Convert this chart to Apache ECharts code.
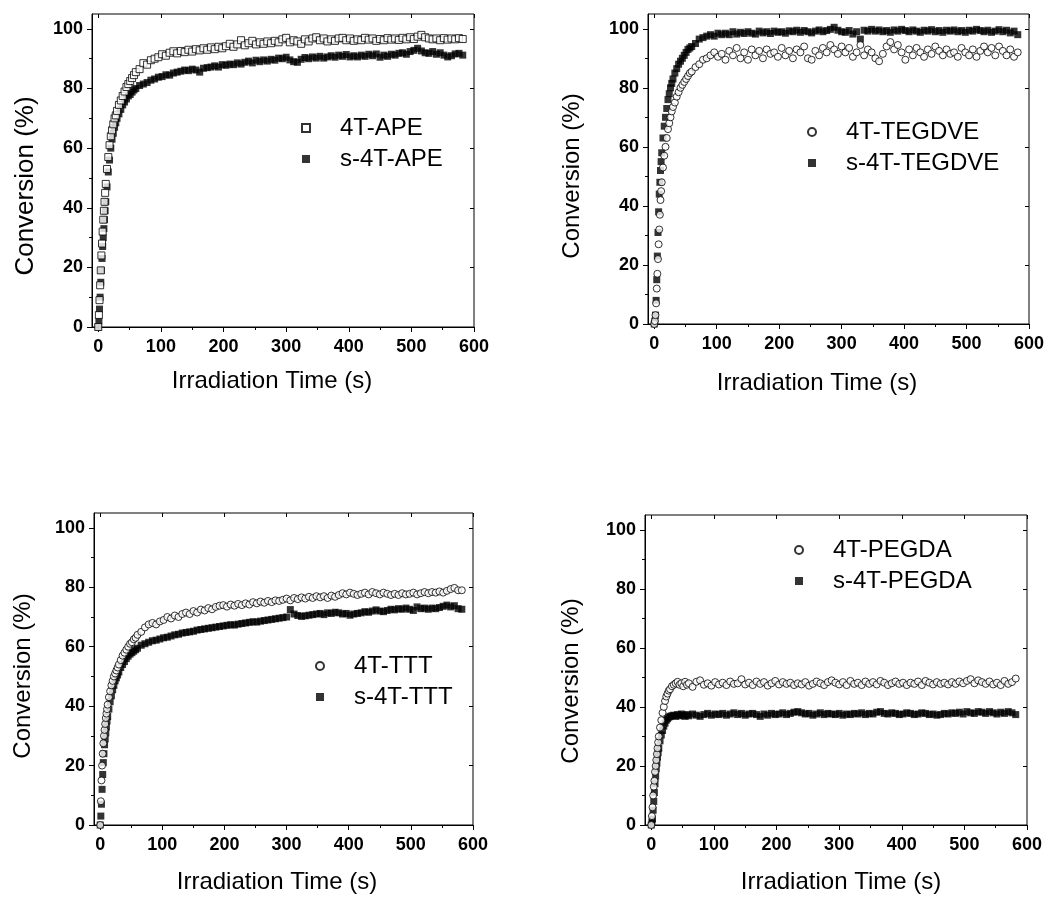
<!DOCTYPE html>
<html>
<head>
<meta charset="utf-8">
<script src="https://cdn.jsdelivr.net/npm/echarts@6/dist/echarts.min.js"></script>
<style>
html,body{margin:0;padding:0;background:#fff;}
#chart{width:1050px;height:899px;}
</style>
</head>
<body>
<div id="chart"></div>
<script>
// ---------------- DATA ----------------
const X_TICKS = [0, 100, 200, 300, 400, 500, 600];
const X_MINOR = [50, 150, 250, 350, 450, 550];
const Y_TICKS = [0, 20, 40, 60, 80, 100];
const Y_MINOR = [10, 30, 50, 70, 90];

// irradiation times (s) of the sampled points
const T = [0,1,2,3,4,5,6,7,8,9,
  10,11,12,14,16,18,20,22,24,26,
  28,30,33,36,39,42,45,48,51,54,
  57,60,66,72,78,84,90,96,102,108,
  114,120,126,132,138,144,150,156,162,168,
  174,180,186,192,198,204,210,216,222,228,
  234,240,246,252,258,264,270,276,282,288,
  294,300,306,312,318,324,330,336,342,348,
  354,360,366,372,378,384,390,396,402,408,
  414,420,426,432,438,444,450,456,462,468,
  474,480,486,492,498,504,510,516,522,528,
  534,540,546,552,558,564,570,576,582];

const ape4T = [0,4,9,14,19,24,28,32,36,39,
  42,45,48,53,57,61,64,66,68,70,
  71,72.5,74.5,76,77.5,79,80.5,81.5,82.5,83.5,
  84.5,85.5,86.5,88.5,88,89.5,90,90.5,91.5,91,
  92,92.5,91.8,92.6,92.2,93,92.4,93.2,92.8,93.5,
  93,93.8,93.2,94,93.5,94.2,95,94,94.8,96.2,
  94.5,95.2,96,94.8,95.5,95,95.8,95.2,96,95.5,
  96.5,97,95.5,96.2,95.8,95,96.5,95.8,96.8,97.2,
  96.2,96.8,95.8,96.5,96,96.8,97,96.2,96.8,96,
  96.5,96.2,97,96.4,96.8,96,96.6,96.2,96.9,96.4,
  96.8,96.3,97,96.5,97.2,96.6,97.4,98,97.2,96.8,
  96.5,96.8,96.2,96.9,96.4,96.8,96.5,96.9,96.6];
const apeS4T = [0,2,6,10,15,19,23,27,30,33,
  36,39,42,47,52,56,60,63,65,67,
  68.5,70,71.5,73,74.5,75.5,76.5,77.5,78,78.8,
  79.5,80,81,81.5,82,82.8,83.2,83.8,84,84.6,
  84.5,85.2,85.5,85.8,86.2,86,86.5,86.2,85.5,86.8,
  87,87.2,87.6,87.2,88,87.8,88.2,88,88.6,88.2,
  88.8,89.2,88.6,89.5,89,89.6,89.2,89.8,89.5,90.2,
  90,90.5,89.6,89,88.8,89.8,90.4,90,90.6,90.2,
  90.8,90.2,90.6,91,90.5,91.2,90.8,91.4,90.6,91,
  90.6,91.2,90.8,91.5,91,91.6,90.5,91.2,90.8,91.5,
  91.2,91.8,92,91.5,92.4,92.8,93.5,92.6,92,91.8,
  92.4,91.5,92,91.2,90.6,91,91.6,91.8,91.2];

const tegdve4T = [0,1,3,7,12,17,22,27,32,37,
  42,45,48,53,57,60,63,66,68,70,
  72,73.5,75,77,78.5,80,81,82,83,84,
  85,85.5,87,88,89.5,90,91,92,90.5,91.5,
  89.5,92.5,91,93.5,90,92,89.5,93,91,92.5,
  90,93,91.5,92,90.5,93.5,91,92.5,90,93,
  92,94,90,89.5,92.5,91,93.5,92,94.5,93,
  91.5,94,92,93.5,90.5,92,94.5,91,93,92,
  90,89,91.5,94,95.5,93,94.5,92,89.5,93,
  91,93.5,92,90.5,93,91.5,94,92.5,91,93,
  91.5,92,90.5,93.5,92,91,93,90.5,92.5,94,
  92,93.5,91,94,92.5,91,93,90.5,92];
const tegdveS4T = [0,1,3,8,15,23,31,38,44,48,
  52,55,58,63,67,70,73,76,78,80,
  81.5,83,85,86.5,88,89,90,91,92,93,
  93.5,94,95,96.5,97,97.5,98,97.5,98.5,98,
  98.5,98,99,98.2,98.8,98.4,99,98.5,98.2,99.2,
  98.6,99,98.4,99.2,98.8,99,98.5,99.3,99,99.5,
  98.8,99.4,99,98.6,99.2,99.6,99,99.4,99.8,100.5,
  99.5,99,98.8,99.4,98.2,99,96.5,99.5,99.2,99.8,
  99.2,99.6,99,99.4,98.8,99.6,99.2,99.8,99.4,99,
  99.6,99.2,98.8,99.5,99.2,99.7,99,99.4,98.8,99.5,
  99.2,99.6,99,99.4,98.8,99.5,99.2,99.8,99.4,99,
  99.5,98.8,99.2,99.7,99,99.5,98.6,99.2,98];

const ttt4T = [0,8,15,20,24,27.5,30,32,34,36,
  37.5,39,40.5,43,45,47,48.5,50,51,52,
  53,54,55.5,57,58,59,60,61,61.5,62.5,
  63,64,65,66.5,67.5,68,67.5,68.5,69,70,
  69.5,70.5,70,71,71.5,71,72,71.5,72.5,72.2,
  73,72.6,73.4,73.8,74,73.5,74.2,73.8,74.4,74,
  74.6,74.2,75,74.6,75.2,74.8,75.4,75,75.6,75.4,
  75.8,76.2,75.6,76.4,76,76.6,76.2,76.8,76.4,77,
  76.6,77,76.4,77.2,76.8,77.4,78,77.6,78.2,77.8,
  77.4,77.8,78.2,77.6,78.4,78,77.6,78.2,77.8,77.4,
  77.8,77.4,78,77.6,77.8,78.2,77.6,78,78.4,78,
  78.4,78.2,78.6,78.2,78.8,79.4,79.8,79,79];
const tttS4T = [0,3,7,12,17,21,24,27,29,31,
  33,35,36.5,39,41.5,43.5,45.5,47,48.5,49.5,
  50.5,51.5,53,54,55,56,56.8,57.5,58,58.5,
  59,59.5,60.5,61,61.5,62,62.2,62.6,63,63.2,
  63.6,64,64.2,64.6,64.8,65,65.2,65.6,65.8,66,
  66.2,66.4,66.6,66.8,67,67.2,67.4,67.3,67.6,67.8,
  68,68.2,68.4,68.3,68.6,68.8,69,69.2,69.4,69.6,
  69.8,70,72.5,71,70.5,70.2,70.4,70.6,70.8,71,
  71.2,70.8,71.4,71.2,71.6,71.4,71,71.2,70.6,71,
  71.2,71.4,71.8,71.6,72,72.4,72,71.8,72.2,72.6,
  72.4,72.8,72.6,73,72.6,72.2,73.4,72.8,73,72.6,
  73,72.8,73.2,73.6,74,73.4,73.8,72.8,72.6];

const pegda4T = [0,3,6,10,13,15,18,20,22,24,
  26,28,30,33,35.5,38,40,42,43.5,44.5,
  45.5,46,47,47.5,48,48.5,47.5,48,47,48.5,
  47.5,48,46.8,48.5,49,47.5,48,47.2,48.4,47.6,
  48.2,47.4,48.6,47.8,48,49.4,47.6,48.2,47.4,48.6,
  47.8,48.4,47.2,48,48.8,47.6,48.4,47.8,48.2,47.4,
  48,47.6,48.4,47.2,47.8,48.6,48,47.4,48.4,49,
  48.2,47.6,48.4,47.4,48.8,47.8,48.2,47.4,48.6,47.8,
  48.4,47.6,48.8,48.2,47.4,48,48.6,47.8,48.2,47.4,
  48.2,47.8,48.6,47.4,48.8,48.2,47.6,48.4,47.8,48.2,
  47.6,48.4,47.8,48.6,48,48.8,49.4,48,49,48.4,
  47.8,48.6,47.6,48.2,47.4,48.8,47.8,48.4,49.6];
const pegdaS4T = [0,1,2,5,8,11,14,16.5,19,21,
  23,24.5,26,28.5,30.5,32,33.5,34.5,35.5,36,
  36.5,36.8,37,37.2,36.8,37.4,37,37.6,37.2,36.8,
  37.4,37,37.6,37.2,36.8,37.4,37.8,37.2,37.6,37.4,
  37.8,37.2,37.6,38,37.4,37.8,37.2,37.6,37.8,37.4,
  36.8,37.6,37.2,37.8,37.4,37.6,38,37.4,37.8,38.2,
  38.4,38,37.6,37.8,37.2,37.6,38,37.4,37.8,37.6,
  37.4,37.8,37.2,37.6,37.4,37.8,37.6,38,37.4,37.8,
  37.6,38.2,38.4,37.8,37.6,38,37.8,37.4,37.6,38,
  37.8,37.4,37.6,38,37.8,37.4,37.6,37.2,37.4,37.8,
  37.6,38,37.8,38.2,37.6,38.4,38,37.8,38.4,38.2,
  37.8,38.4,38,37.6,38.2,37.8,38.4,38,37.4];

const OPEN_NAMES = ['4T-APE', '4T-TEGDVE', '4T-TTT', '4T-PEGDA'];
const FILLED_NAMES = ['s-4T-APE', 's-4T-TEGDVE', 's-4T-TTT', 's-4T-PEGDA'];
const OPEN_VALUES = [ape4T, tegdve4T, ttt4T, pegda4T];
const FILLED_VALUES = [apeS4T, tegdveS4T, tttS4T, pegdaS4T];
const X_TITLE = 'Irradiation Time (s)';
const Y_TITLE = 'Conversion (%)';

// ---------------- LAYOUT ----------------
const FONT = '"Liberation Sans", Arial, Helvetica, sans-serif';
const layout = [
  {grid:{left:92, top:14, width:382, height:313}, legend:{left:301, top:116},
   openSymbol:'rect', xGap:42, xPad:[0,22,0,0], yGap:53, yPad:[0,31,0,0], yFont:26},
  {grid:{left:648, top:14, width:381, height:310}, legend:{left:807, top:120},
   openSymbol:'circle', xGap:47, xPad:[0,43,0,0], yGap:64, yPad:[0,14,0,0], yFont:24},
  {grid:{left:94, top:513, width:379, height:312}, legend:{left:315, top:654},
   openSymbol:'circle', xGap:45, xPad:[0,13,0,0], yGap:59, yPad:[0,14,0,0], yFont:24},
  {grid:{left:645, top:515, width:382, height:310}, legend:{left:794, top:538},
   openSymbol:'circle', xGap:45, xPad:[0,0,0,10], yGap:62, yPad:[0,22,0,0], yFont:24}
];

const grids = [], xAxes = [], yAxes = [], legends = [], series = [];
const black = '#000';
const tickFont = {color:black, fontSize:18, fontWeight:'bold', fontFamily:FONT};

layout.forEach((L, g) => {
  grids.push(Object.assign({show:true, borderColor:black, borderWidth:1, backgroundColor:'transparent'}, L.grid));
  // main bottom x axis
  xAxes.push({type:'value', gridIndex:g, min:-10, max:600, position:'bottom',
    axisLine:{show:true, onZero:false, lineStyle:{color:black, width:1}},
    axisTick:{show:true, inside:false, length:5, customValues:X_TICKS, lineStyle:{color:black, width:1}},
    axisLabel:Object.assign({show:true, customValues:X_TICKS, margin:11}, tickFont),
    splitLine:{show:false},
    name:X_TITLE, nameLocation:'middle', nameGap:L.xGap,
    nameTextStyle:{color:black, fontSize:24, fontFamily:FONT, padding:L.xPad}});
  // minor bottom ticks
  xAxes.push({type:'value', gridIndex:g, min:-10, max:600, position:'bottom',
    axisLine:{show:false, onZero:false},
    axisTick:{show:true, inside:false, length:3, customValues:X_MINOR, lineStyle:{color:black, width:1}},
    axisLabel:{show:false}, splitLine:{show:false}});
  // top mirror ticks
  xAxes.push({type:'value', gridIndex:g, min:-10, max:600, position:'top',
    axisLine:{show:false, onZero:false},
    axisTick:{show:true, inside:true, length:4, customValues:X_TICKS, lineStyle:{color:black, width:1}},
    axisLabel:{show:false}, splitLine:{show:false}});

  yAxes.push({type:'value', gridIndex:g, min:0, max:105, position:'left',
    axisLine:{show:true, onZero:false, lineStyle:{color:black, width:1}},
    axisTick:{show:true, inside:false, length:5, customValues:Y_TICKS, lineStyle:{color:black, width:1}},
    axisLabel:Object.assign({show:true, customValues:Y_TICKS, margin:9}, tickFont),
    splitLine:{show:false},
    name:Y_TITLE, nameLocation:'middle', nameGap:L.yGap,
    nameTextStyle:{color:black, fontSize:L.yFont, fontFamily:FONT, padding:L.yPad}});
  yAxes.push({type:'value', gridIndex:g, min:0, max:105, position:'left',
    axisLine:{show:false, onZero:false},
    axisTick:{show:true, inside:false, length:3, customValues:Y_MINOR, lineStyle:{color:black, width:1}},
    axisLabel:{show:false}, splitLine:{show:false}});
  yAxes.push({type:'value', gridIndex:g, min:0, max:105, position:'right',
    axisLine:{show:false, onZero:false},
    axisTick:{show:true, inside:true, length:4, customValues:Y_TICKS, lineStyle:{color:black, width:1}},
    axisLabel:{show:false}, splitLine:{show:false}});

  const toPts = vals => T.map((t, i) => [t, vals[i]]);
  series.push({type:'scatter', name:FILLED_NAMES[g], xAxisIndex:3*g, yAxisIndex:3*g,
    symbol:'rect', symbolSize:7, itemStyle:{color:black},
    data:toPts(FILLED_VALUES[g]), z:2, emphasis:{disabled:true}});
  series.push({type:'scatter', name:OPEN_NAMES[g], xAxisIndex:3*g, yAxisIndex:3*g,
    symbol:L.openSymbol, symbolSize:7, itemStyle:{color:'#fff', borderColor:black, borderWidth:1},
    data:toPts(OPEN_VALUES[g]), z:3, emphasis:{disabled:true}});

  legends.push({orient:'vertical', left:L.legend.left, top:L.legend.top,
    itemWidth:8, itemHeight:8, itemGap:7, padding:0, selectedMode:false,
    data:[OPEN_NAMES[g], FILLED_NAMES[g]],
    textStyle:{color:black, fontSize:24, fontFamily:FONT, lineHeight:23, padding:[0,0,0,25]}});
});

const chart = echarts.init(document.getElementById('chart'), null, {renderer:'canvas'});
chart.setOption({
  animation:false,
  backgroundColor:'#fff',
  textStyle:{fontFamily:FONT},
  grid:grids, xAxis:xAxes, yAxis:yAxes, legend:legends, series:series
});
</script>
</body>
</html>
